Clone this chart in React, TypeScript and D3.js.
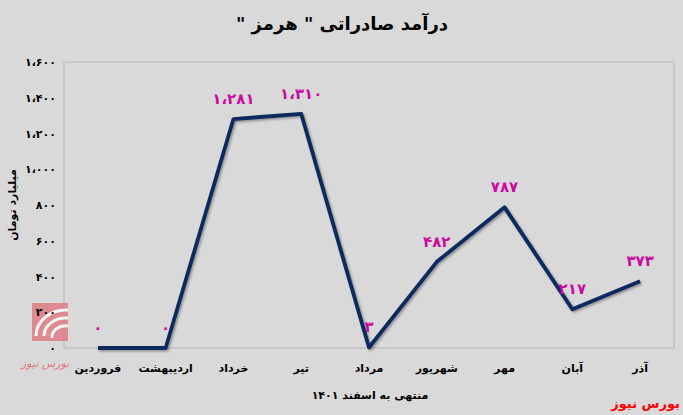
import React from "react";
import * as d3 from "d3";

const categories = ["فروردین", "اردیبهشت", "خرداد", "تیر", "مرداد", "شهریور", "مهر", "آبان", "آذر"];
const values = [0, 0, 1281, 1310, 3, 482, 787, 217, 373];
const yTicks = [0, 200, 400, 600, 800, 1000, 1200, 1400, 1600];
const title = "درآمد صادراتی \" هرمز \"";
const yTitle = "میلیارد تومان";
const xTitle = "منتهی به اسفند ۱۴۰۱";
const brand = "بورس نیوز";

const W = 683, H = 415;
const M = { left: 64, right: 674, top: 62, bottom: 348 };
const FONT = "'DejaVu Sans', sans-serif";

const toFa = (n: number) => {
  const s = d3.format(",")(n).replace(/,/g, "،");
  return s.replace(/[0-9]/g, (d) => "۰۱۲۳۴۵۶۷۸۹"[+d]);
};

export default function App() {
  const x = d3.scalePoint<string>().domain(categories).range([M.left, M.right]).padding(0.5);
  const y = d3.scaleLinear().domain([0, 1600]).range([M.bottom, M.top]);
  const line = d3
    .line<number>()
    .x((_, i) => x(categories[i]) as number)
    .y((d) => y(d));

  return (
    <div style={{ position: "fixed", left: 0, top: 0 }}>
      <svg width={W} height={H} style={{ display: "block", background: "#d9d9d9" }}>
        <defs>
          <filter id="sh" x="-10%" y="-10%" width="120%" height="120%">
            <feDropShadow dx="1.5" dy="1.5" stdDeviation="1.2" floodColor="#000" floodOpacity="0.35" />
          </filter>
        </defs>
        <rect x={0} y={0} width={W} height={H} fill="#d9d9d9" />
        <text x={342} y={30} textAnchor="middle" fontFamily={FONT} fontWeight="bold" fontSize={18} fill="#000" direction="rtl">
          {title}
        </text>
        <rect
          x={M.left}
          y={M.top}
          width={M.right - M.left}
          height={M.bottom - M.top}
          fill="#d9d9d9"
          stroke="#bdbdbd"
          strokeWidth={1.2}
        />
        {/* logo watermark */}
        <g opacity={0.75}>
          <rect x={32} y={303} width={36} height={38} fill="#e0707a" />
          <path d="M68,310 A30,26 0 0 0 36,336" fill="none" stroke="#fff" strokeWidth={3} />
          <path d="M68,318 A22,18 0 0 0 44,336" fill="none" stroke="#fff" strokeWidth={3} />
          <path d="M68,326 A14,11 0 0 0 52,338" fill="none" stroke="#fff" strokeWidth={3} />
          <text x={45} y={367} textAnchor="middle" fontFamily={FONT} fontSize={11} fontStyle="italic" fill="#e05060" direction="rtl">
            {brand}
          </text>
        </g>
        {yTicks.map((t) => (
          <text key={t} x={56} y={y(t) + 4} textAnchor="end" fontFamily={FONT} fontWeight="bold" fontSize={11} fill="#000">
            {toFa(t)}
          </text>
        ))}
        <text
          transform={`translate(16,${205}) rotate(-90)`}
          textAnchor="middle"
          fontFamily={FONT}
          fontWeight="bold"
          fontSize={11}
          fill="#000"
          direction="rtl"
        >
          {yTitle}
        </text>
        <path d={line(values) as string} fill="none" stroke="#0f2a5e" strokeWidth={3.8} strokeLinejoin="round" filter="url(#sh)" />
        {values.map((v, i) => (
          <text
            key={i}
            x={x(categories[i]) as number}
            y={y(v) - 15}
            textAnchor="middle"
            fontFamily={FONT}
            fontWeight="bold"
            fontSize={15}
            fill="#cc0aa0"
          >
            {toFa(v)}
          </text>
        ))}
        {categories.map((c) => (
          <text key={c} x={x(c) as number} y={372} textAnchor="middle" fontFamily={FONT} fontWeight="bold" fontSize={11} fill="#000" direction="rtl">
            {c}
          </text>
        ))}
        <text x={370} y={399} textAnchor="middle" fontFamily={FONT} fontWeight="bold" fontSize={11} fill="#000" direction="rtl">
          {xTitle}
        </text>
        <text x={680} y={408} textAnchor="end" fontFamily={FONT} fontWeight="bold" fontSize={13} fill="#ff0000" direction="ltr">
          {brand}
        </text>
      </svg>
    </div>
  );
}
